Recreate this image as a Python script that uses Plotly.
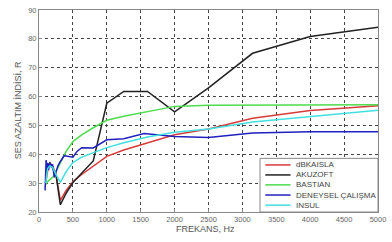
import plotly.graph_objects as go

freq_std = [100, 125, 160, 200, 250, 315, 400, 500, 630, 800, 1000, 1250, 1600, 2000, 2500, 3150, 4000, 5000]

dbkaisla = [30, 34, 37, 36, 33, 24, 27.5, 30.5, 33, 36, 39.3, 41.5, 44, 46.8, 48.8, 52.5, 55.2, 56.8]
akuzoft = [33, 36, 37, 35, 33, 22.5, 26.5, 30.2, 33.5, 37.7, 57.7, 61.8, 61.8, 54.7, 63, 75, 80.8, 84]
bastian = [29.5, 30.5, 31.2, 32, 34, 37, 41, 44.4, 46.7, 49.2, 51.8, 53.2, 54.8, 56.6, 57, 57, 57, 57.2]
insul = [30, 35, 36, 35.5, 33, 30.3, 34, 37.1, 39, 40.6, 42.3, 44, 46, 47.6, 48.8, 51.2, 53.2, 55.3]

freq_exp = [90, 105, 115, 125, 140, 160, 180, 200, 225, 250, 280, 315, 370, 400, 500, 560, 630, 800, 1000, 1250, 1550, 2000, 2500, 3150, 4000, 5000]
deneysel = [27.5, 38, 35, 37, 34.5, 37, 35.5, 36.5, 32, 34, 36, 37.5, 39.5, 39.4, 39, 41, 42.3, 42.2, 45, 45.4, 47.2, 46.2, 45.8, 47.4, 47.8, 47.8]

x_ticks = [0, 500, 1000, 1500, 2000, 2500, 3000, 3500, 4000, 4500, 5000]
y_ticks = [20, 30, 40, 50, 60, 70, 80, 90]

series = [
    ("dBKAISLA", freq_std, dbkaisla, "#d83a3a"),
    ("AKUZOFT", freq_std, akuzoft, "#222222"),
    ("BASTIAN", freq_std, bastian, "#4ddc4d"),
    ("DENEYSEL ÇALIŞMA", freq_exp, deneysel, "#2020c0"),
    ("INSUL", freq_std, insul, "#40e0e0"),
]

fig = go.Figure()
for name, xs, ys, col in series:
    fig.add_trace(go.Scatter(x=xs, y=ys, mode="lines", name=name, showlegend=False,
                             line=dict(color=col, width=1.5)))

FONT = "Liberation Sans, Arial, sans-serif"
axis_font = dict(family=FONT, size=7.5, color="#666666")

# manual compact legend (paper coordinates)
shapes = [dict(type="rect", xref="paper", yref="paper", x0=0.652, x1=1.0, y0=0.0, y1=0.2655,
               fillcolor="white", line=dict(color="#888888", width=1), layer="above")]
annotations = []
row_y = [0.233, 0.1835, 0.1344, 0.0840, 0.034]
for (name, _, _, col), yy in zip(series, row_y):
    shapes.append(dict(type="line", xref="paper", yref="paper", x0=0.6676, x1=0.742, y0=yy, y1=yy,
                       line=dict(color=col, width=1.5), layer="above"))
    annotations.append(dict(xref="paper", yref="paper", x=0.752, y=yy, text=name, showarrow=False,
                            xanchor="left", yanchor="middle",
                            font=dict(family=FONT, size=8, color="#444444")))

annotations.append(dict(xref="paper", yref="paper", x=0.49, y=-0.0825, text="FREKANS, Hz",
                        showarrow=False, xanchor="center", yanchor="middle",
                        font=dict(family=FONT, size=9, color="#555555")))
annotations.append(dict(xref="paper", yref="paper", x=-0.0612, y=0.505, text="SES AZALTIM İNDİSİ, R",
                        showarrow=False, xanchor="center", yanchor="middle", textangle=-90,
                        font=dict(family=FONT, size=9, color="#555555")))

fig.update_layout(
    width=392, height=242,
    margin=dict(l=39, r=10, t=6, b=30),
    paper_bgcolor="white", plot_bgcolor="white",
    font=dict(family=FONT, color="#555555"),
    xaxis=dict(range=[0, 5000], tickvals=x_ticks, ticktext=[str(v) for v in x_ticks],
               showgrid=True, gridcolor="#444444", griddash="dot", gridwidth=1,
               zeroline=False, showline=True, linecolor="#888888", mirror=True,
               ticks="inside", ticklen=3, tickcolor="#888888", tickfont=axis_font),
    yaxis=dict(range=[20, 90], tickvals=y_ticks, ticktext=[str(v) for v in y_ticks],
               showgrid=True, gridcolor="#444444", griddash="dot", gridwidth=1,
               zeroline=False, showline=True, linecolor="#888888", mirror=True,
               ticks="inside", ticklen=3, tickcolor="#888888", tickfont=axis_font),
    shapes=shapes,
    annotations=annotations,
    showlegend=False,
    hovermode=False,
)

fig.write_html("out.html", config={"displayModeBar": False},
               post_script="document.body.style.margin='0';document.body.style.padding='0';")
